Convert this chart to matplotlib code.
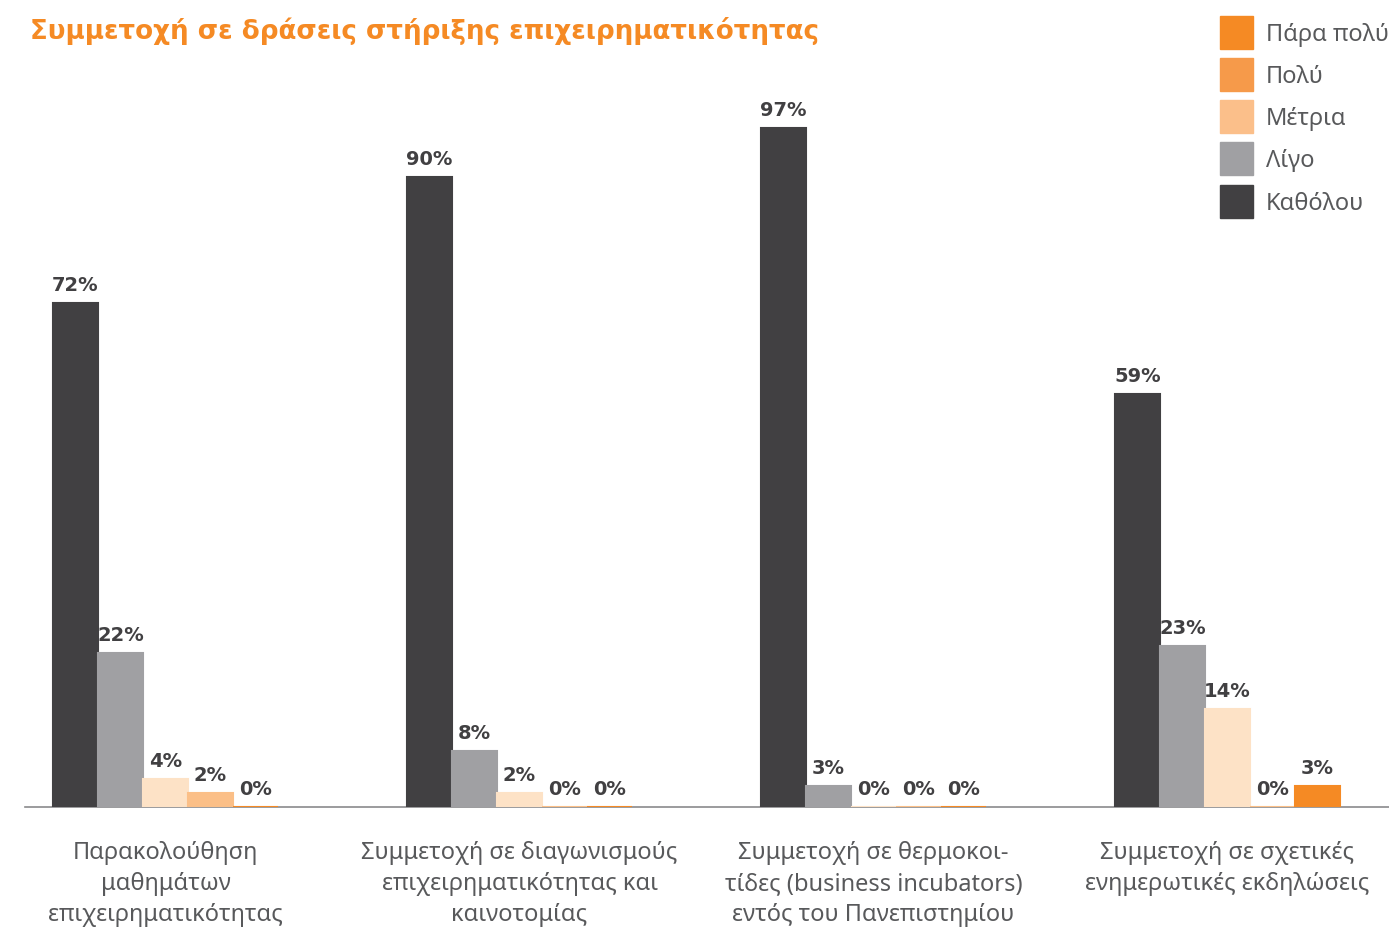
import matplotlib
matplotlib.use("Agg")
import matplotlib.pyplot as plt
from matplotlib.patches import Rectangle
import numpy as np

plt.rcParams['font.family'] = ['Noto Sans', 'DejaVu Sans']

categories = [
    "Παρακολούθηση\nμαθημάτων\nεπιχειρηματικότητας",
    "Συμμετοχή σε διαγωνισμούς\nεπιχειρηματικότητας και\nκαινοτομίας",
    "Συμμετοχή σε θερμοκοι-\nτίδες (business incubators)\nεντός του Πανεπιστημίου",
    "Συμμετοχή σε σχετικές\nενημερωτικές εκδηλώσεις",
]
series_names = ["Καθόλου", "Λίγο", "Μέτρια", "Πολύ", "Πάρα πολύ"]
kathólou = [72, 90, 97, 59]
ligo = [22, 8, 3, 23]
metria = [4, 2, 0, 14]
poly = [2, 0, 0, 0]
para_poly = [0, 0, 0, 3]
values = [kathólou, ligo, metria, poly, para_poly]

bar_colors = ["#414042", "#A0A0A3", "#FDE2C6", "#FBBF87", "#F58A24"]
legend_colors = ["#414042", "#A0A0A3", "#FBBF8A", "#F69A4A", "#F58A24"]
title = "Συμμετοχή σε δράσεις στήριξης επιχειρηματικότητας"

W, H = 1389, 953
fig = plt.figure(figsize=(W / 100, H / 100), dpi=100)
ax = fig.add_axes([25 / W, 145 / H, 1364 / W, 703 / H])

bw = 45 / 354
x = np.arange(len(categories))
for i, (vals, col) in enumerate(zip(values, bar_colors)):
    pos = x + (i - 2) * bw
    ax.bar(pos, vals, width=bw, color=col, edgecolor=col, linewidth=1.5, zorder=3)
    for px, v in zip(pos, vals):
        ax.text(px, v + 1.3, f"{v}%", ha="center", va="bottom", fontsize=14,
                fontweight="bold", color="#414042", family="DejaVu Sans")

left = -140.5 / 354
ax.set_xlim(left, left + 1364 / 354)
ax.set_ylim(0, 100.5)
for s in ["top", "right", "left"]:
    ax.spines[s].set_visible(False)
ax.spines["bottom"].set_color("#8a8a8c")
ax.spines["bottom"].set_linewidth(1.2)
ax.set_yticks([])
ax.set_xticks(x)
ax.set_xticklabels(categories, fontsize=17, color="#58595B", linespacing=1.38)
ax.tick_params(axis="x", length=0, pad=24)

fig.text(30 / W, 1 - 31 / H, title, fontsize=18.8, fontweight="bold",
         color="#F58A24", ha="left", va="center", family="DejaVu Sans")

# legend
legend_order = [4, 3, 2, 1, 0]
ys = [33, 75, 117, 159, 202]
for k, y in zip(legend_order, ys):
    fig.patches.append(Rectangle((1220 / W, 1 - (y + 16.5) / H), 33 / W, 33 / H,
                                 transform=fig.transFigure, color=legend_colors[k]))
    fig.text(1266 / W, 1 - (y + 2) / H, series_names[k], fontsize=17, color="#58595B",
             ha="left", va="center")

fig.savefig("out.png", dpi=100)
